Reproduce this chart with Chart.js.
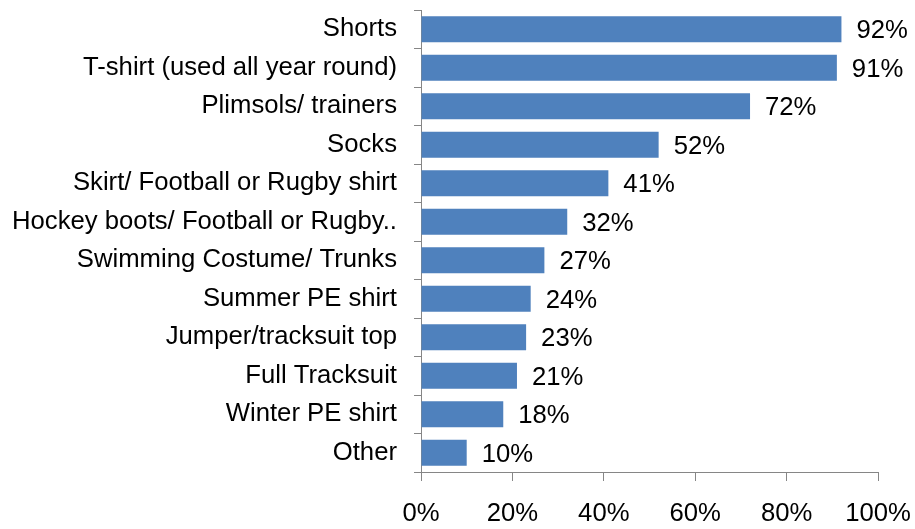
<!DOCTYPE html>
<html>
<head>
<meta charset="utf-8">
<script src="https://cdn.jsdelivr.net/npm/chart.js@4"></script>
<style>
  html, body { margin: 0; padding: 0; background: #fff; }
  #wrap { width: 915px; height: 529px; }
</style>
</head>
<body>
<div id="wrap"><canvas id="barChart" width="915" height="529"></canvas></div>
<script>
// Items of PE kit, share of respondents (%)
const categories = [
    "Shorts",
    "T-shirt (used all year round)",
    "Plimsols/ trainers",
    "Socks",
    "Skirt/ Football or Rugby shirt",
    "Hockey boots/ Football or Rugby..",
    "Swimming Costume/ Trunks",
    "Summer PE shirt",
    "Jumper/tracksuit top",
    "Full Tracksuit",
    "Winter PE shirt",
    "Other"
];
const values = [92, 91, 72, 52, 41, 32, 27, 24, 23, 21, 18, 10];
const xTicks = [0, 20, 40, 60, 80, 100];

const labelFont = { family: "'Liberation Sans', Arial, sans-serif", size: 25.7 };

// draw value labels just past the end of each bar
const valueLabels = {
    id: 'valueLabels',
    afterDatasetsDraw(chart) {
        const ctx = chart.ctx;
        const meta = chart.getDatasetMeta(0);
        ctx.save();
        ctx.font = labelFont.size + "px " + labelFont.family;
        ctx.fillStyle = '#000';
        ctx.textAlign = 'left';
        ctx.textBaseline = 'middle';
        meta.data.forEach((bar, i) => {
            ctx.fillText(values[i] + '%', bar.x + 15, bar.y + 2);
        });
        ctx.restore();
    }
};

new Chart(document.getElementById('barChart'), {
    type: 'bar',
    data: {
        labels: categories,
        datasets: [{
            data: values,
            backgroundColor: '#4F81BD',
            borderWidth: 0,
            categoryPercentage: 1,
            barPercentage: 0.68
        }]
    },
    options: {
        indexAxis: 'y',
        responsive: false,
        animation: false,
        layout: { padding: { top: 10, right: 37, left: 0, bottom: 0 } },
        plugins: {
            legend: { display: false },
            tooltip: { enabled: false }
        },
        scales: {
            x: {
                min: 0,
                max: 100,
                afterBuildTicks(scale) {
                    scale.ticks = xTicks.map(v => ({ value: v }));
                },
                afterFit(scale) {
                    scale.height = 57;
                    scale.paddingLeft = 0;
                    scale.paddingRight = 0;
                },
                grid: {
                    drawOnChartArea: false,
                    drawTicks: true,
                    tickLength: 9,
                    color: '#868686'
                },
                border: { color: '#868686', width: 1 },
                ticks: {
                    color: '#000',
                    font: labelFont,
                    padding: 17,
                    callback: v => v + '%'
                }
            },
            y: {
                afterFit(scale) {
                    scale.width = 421;
                    scale.paddingTop = 0;
                    scale.paddingBottom = 0;
                },
                grid: {
                    drawOnChartArea: false,
                    drawTicks: true,
                    tickLength: 7,
                    offset: true,
                    color: '#868686'
                },
                border: { color: '#868686', width: 1 },
                ticks: {
                    color: '#000',
                    font: labelFont,
                    padding: 17,
                    autoSkip: false
                }
            }
        }
    },
    plugins: [valueLabels]
});
</script>
</body>
</html>
